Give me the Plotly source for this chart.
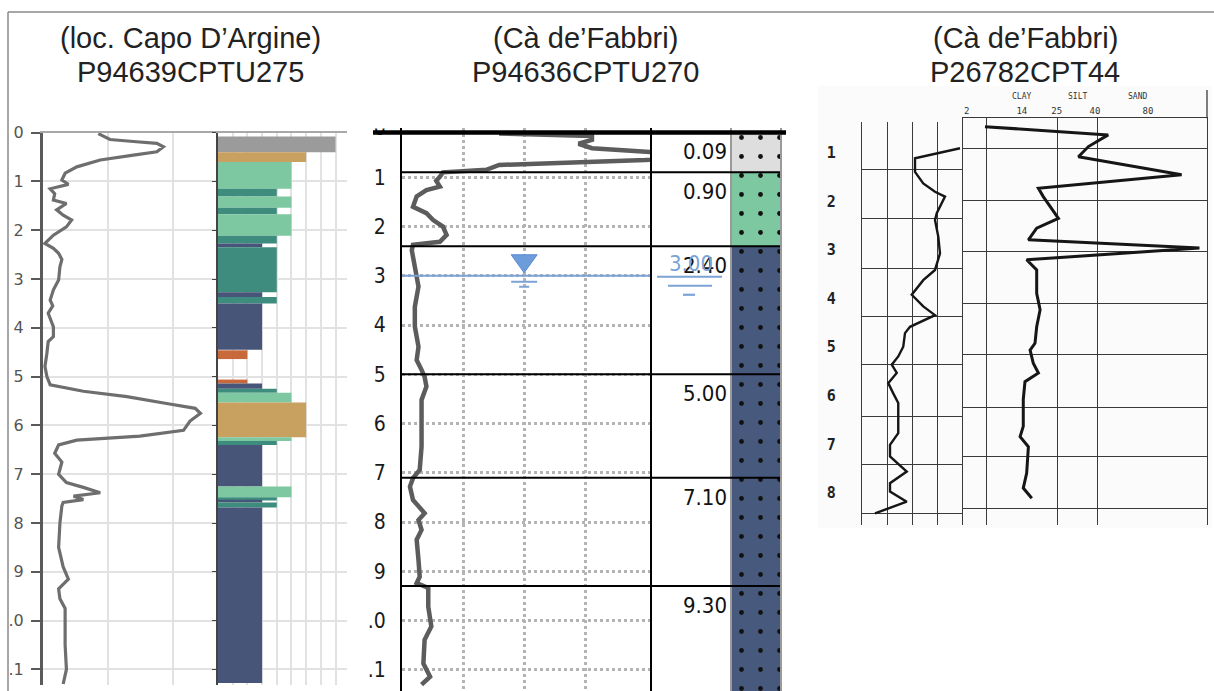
import plotly.graph_objects as go

W, H = 1214, 691

# ---------------- DATA ----------------
# Left log: P94639CPTU275 (loc. Capo D'Argine) - cone resistance trace
cptu275_depth = [0.02, 0.14, 0.18, 0.22, 0.29, 0.39, 0.46, 0.56, 0.70, 0.83, 0.97, 1.06, 1.15,
                 1.25, 1.38, 1.45, 1.58, 1.69, 1.79, 1.93, 2.10, 2.27, 2.37, 2.47, 2.60, 2.75,
                 3.02, 3.22, 3.43, 3.55, 3.70, 3.85, 3.98, 4.18, 4.28, 4.52, 4.79, 5.00, 5.17,
                 5.30, 5.41, 5.55, 5.65, 5.75, 5.91, 6.10, 6.22, 6.30, 6.40, 6.57, 6.75, 7.00,
                 7.17, 7.27, 7.38, 7.45, 7.52, 7.58, 7.65, 8.00, 8.50, 8.90, 9.15, 9.35, 9.55,
                 9.75, 10.00, 10.50, 11.00, 11.30]
cptu275_qc = [8.5, 10.3, 13.9, 17.5, 18.5, 17.5, 13.9, 8.8, 5.2, 3.4, 2.9, 3.9, 1.1,
              1.8, 1.6, 3.6, 2.1, 3.1, 4.4, 3.6, 1.6, 0.3, 1.6, 2.4, 2.9, 2.6,
              2.4, 1.6, 1.1, 1.5, 0.8, 1.2, 1.6, 1.6, 0.8, 0.6, 0.3, 0.6, 1.1,
              6.2, 12.9, 19.0, 23.4, 24.2, 22.6, 21.6, 14.9, 5.2, 2.4, 1.8, 2.9, 2.4,
              3.6, 6.2, 8.8, 4.7, 6.2, 3.1, 2.9, 2.6, 2.4, 3.1, 3.9, 2.4, 2.6,
              3.4, 3.4, 3.4, 3.6, 3.1]

# Soil behaviour type layers for CPTU275
sbt275_top = [0.08, 0.40, 0.60, 1.15, 1.31, 1.54, 1.67, 2.11, 2.27, 2.35, 3.27, 3.37, 3.50,
              4.46, 5.06, 5.14, 5.25, 5.33, 5.53, 6.24, 6.32, 6.40, 7.25, 7.47, 7.54, 7.58, 7.68]
sbt275_bottom = [0.40, 0.60, 1.15, 1.31, 1.54, 1.67, 2.11, 2.27, 2.35, 3.27, 3.37, 3.50, 4.45,
                 4.64, 5.14, 5.25, 5.33, 5.53, 6.24, 6.32, 6.40, 7.25, 7.47, 7.54, 7.58, 7.68, 11.28]
sbt275_zone = [8, 6, 5, 4, 5, 4, 5, 4, 3, 4, 3, 4, 3,
               2, 2, 3, 4, 5, 6, 5, 4, 3, 5, 4, 3, 4, 3]

# Middle log: P94636CPTU270 (Ca de'Fabbri)
cptu270_depth = [0.11, 0.16, 0.24, 0.32, 0.41, 0.48, 0.56, 0.65, 0.68, 0.75, 0.85, 0.90, 0.99,
                 1.07, 1.19, 1.26, 1.39, 1.60, 1.73, 1.87, 2.00, 2.17, 2.31, 2.37, 2.48, 2.88,
                 3.22, 3.63, 4.03, 4.44, 4.71, 4.91, 5.05, 5.25, 5.52, 5.99, 6.47, 6.94, 7.11,
                 7.28, 7.55, 7.82, 7.96, 8.16, 8.36, 8.77, 9.11, 9.24, 9.34, 9.72, 10.12, 10.39,
                 10.87, 11.14, 11.30]
cptu270_qc = [1.59, 3.11, 3.11, 2.89, 3.11, 3.98, 5.00, 3.98, 3.11, 1.59, 1.38, 0.67, 0.62,
              0.56, 0.62, 0.40, 0.24, 0.18, 0.40, 0.51, 0.67, 0.73, 0.62, 0.18, 0.16, 0.21,
              0.27, 0.21, 0.21, 0.27, 0.24, 0.32, 0.37, 0.40, 0.32, 0.32, 0.32, 0.29, 0.18,
              0.13, 0.18, 0.37, 0.27, 0.32, 0.24, 0.27, 0.29, 0.24, 0.43, 0.43, 0.48, 0.37,
              0.35, 0.46, 0.32]
strata270_top = [0.09, 0.90, 2.40, 5.00, 7.10, 9.30]
strata270_bottom = [0.90, 2.40, 5.00, 7.10, 9.30, 11.43]
strata270_soil = ["fill", "silt", "clay", "clay", "clay", "clay"]
water270_depth = 3.00

# Right log: P26782CPT44 (Ca de'Fabbri), scanned record
cpt44_depth_a = [0.905, 1.11, 1.39, 1.63, 1.80, 1.90, 2.24, 2.38, 2.72, 3.07, 3.41, 3.62, 3.92,
                 4.16, 4.34, 4.58, 4.71, 4.99, 5.19, 5.36, 5.53, 5.74, 5.95, 6.15, 6.50, 6.77,
                 7.01, 7.25, 7.56, 7.80, 7.97, 8.18, 8.42]
cpt44_qc = [3.92, 2.12, 2.12, 2.45, 2.92, 3.32, 2.99, 2.92, 3.05, 3.12, 2.92, 2.45, 1.99,
            2.45, 2.92, 1.92, 1.72, 1.65, 1.45, 1.19, 1.39, 1.05, 1.25, 1.45, 1.45, 1.45,
            1.12, 1.12, 1.79, 1.12, 1.12, 1.79, 0.52]
cpt44_depth_b = [0.46, 0.63, 0.87, 1.08, 1.45, 1.73, 1.90, 2.14, 2.35, 2.55, 2.79, 2.96, 3.20,
                 3.41, 3.89, 4.23, 4.58, 4.92, 5.06, 5.33, 5.53, 5.71, 6.08, 6.63, 6.84, 7.05,
                 7.59, 7.90, 8.11]
cpt44_ratio = [9.0, 59.5, 51.4, 47.3, 89.6, 30.9, 32.9, 36.4, 39.1, 30.2, 26.8, 96.9, 26.1,
               30.2, 30.2, 31.6, 30.2, 29.5, 27.5, 28.8, 30.9, 25.4, 24.7, 24.7, 23.4, 26.8,
               26.1, 24.7, 28.2]
cpt44_scale_pos = [1.5, 24.1, 38.4, 54.1, 75.8]
cpt44_scale_text = ["2", "14", "25", "40", "80"]
cpt44_class_pos = [24.1, 47.1, 71.7]
cpt44_class_text = ["CLAY", "SILT", "SAND"]
cpt44_gridx_b = [9.7, 38.9, 55.3]
cpt44_gridy_a = [0.358, 1.35, 2.35, 3.37, 4.37, 5.36, 6.43, 7.42, 8.42]
cpt44_gridy_b = [0.905, 1.97, 3.03, 4.10, 5.16, 6.25, 7.25, 8.31]
cpt44_depth_ticks = [1, 2, 3, 4, 5, 6, 7, 8]

depth_ticks = list(range(12))
depth_ticktext = ["0", "1", "2", "3", "4", "5", "6", "7", "8", "9", ".0", ".1"]

titles_top = ["(loc. Capo D\u2019Argine)", "(C\u00e0 de\u2019Fabbri)", "(C\u00e0 de\u2019Fabbri)"]
titles_bottom = ["P94639CPTU275", "P94636CPTU270", "P26782CPT44"]

# ---------------- STYLE ----------------
zone_colors = {2: "#C8693C", 3: "#465578", 4: "#3D8C7D", 5: "#7DC8A0", 6: "#C8A060", 8: "#9B9B9B"}
soil_colors = {"fill": "#DEDEDE", "silt": "#7DC8A0", "clay": "#475A7E"}
NARROW = "Liberation Sans Narrow, DejaVu Sans Condensed, Arial Narrow, sans-serif"
SANS = "Liberation Sans, Arial, sans-serif"
MONO = "DejaVu Sans Mono, Liberation Mono, monospace"
BLUE = "#7BA3D6"


def px(x):
    return x / W


def py(y):
    return 1 - y / H


fig = go.Figure()

# ---- Panel 1 ----
fig.add_trace(go.Scatter(x=cptu275_qc, y=cptu275_depth, mode="lines",
                         line=dict(color="#6E6E6E", width=3.2), xaxis="x", yaxis="y",
                         hoverinfo="skip"))
fig.add_trace(go.Bar(orientation="h",
                     y=[(t + b) / 2 for t, b in zip(sbt275_top, sbt275_bottom)],
                     width=[b - t for t, b in zip(sbt275_top, sbt275_bottom)],
                     x=sbt275_zone, base=0,
                     marker=dict(color=[zone_colors[z] for z in sbt275_zone], line=dict(width=0)),
                     xaxis="x2", yaxis="y2", hoverinfo="skip"))

# ---- Panel 2 ----
fig.add_trace(go.Scatter(x=cptu270_qc, y=cptu270_depth, mode="lines",
                         line=dict(color="#5C5C5C", width=4.5), xaxis="x3", yaxis="y3",
                         hoverinfo="skip"))
strata_mid = [(t + b) / 2 for t, b in zip(strata270_top, strata270_bottom)]
strata_thk = [b - t for t, b in zip(strata270_top, strata270_bottom)]
fig.add_trace(go.Bar(orientation="h", y=strata_mid, width=strata_thk,
                     x=[1] * len(strata270_top), base=0,
                     marker=dict(color=[soil_colors[s] for s in strata270_soil], line=dict(width=0)),
                     xaxis="x4", yaxis="y4", hoverinfo="skip"))
fig.add_trace(go.Bar(orientation="h", y=strata_mid, width=strata_thk,
                     x=[1] * len(strata270_top), base=0,
                     marker=dict(color="rgba(0,0,0,0)", line=dict(width=0),
                                 pattern=dict(shape=".", fillmode="overlay",
                                              bgcolor="rgba(0,0,0,0)", fgcolor="#111111",
                                              fgopacity=1, size=19, solidity=0.05)),
                     xaxis="x4", yaxis="y4", hoverinfo="skip"))

# ---- Panel 3 ----
fig.add_trace(go.Scatter(x=cpt44_qc, y=cpt44_depth_a, mode="lines",
                         line=dict(color="#161616", width=2.4), xaxis="x5", yaxis="y5",
                         hoverinfo="skip"))
fig.add_trace(go.Scatter(x=cpt44_ratio, y=cpt44_depth_b, mode="lines",
                         line=dict(color="#161616", width=3), xaxis="x6", yaxis="y6",
                         hoverinfo="skip"))

GRID1 = "#E2E2E2"
DOT = "#B4B4B4"
SCAN = "#3A3A3A"

fig.update_layout(
    width=W, height=H, margin=dict(l=0, r=0, t=0, b=0), template="none",
    paper_bgcolor="white", plot_bgcolor="rgba(0,0,0,0)", showlegend=False, barmode="overlay",
    # panel 1
    xaxis=dict(domain=[px(43), px(218)], range=[0, 26.9], anchor="y", tick0=0, dtick=10,
               showgrid=True, gridcolor=GRID1, gridwidth=1.5, showticklabels=False, ticks="",
               zeroline=False, showline=True, side="top", linecolor="#A8A8A8", linewidth=2),
    yaxis=dict(domain=[py(685), py(132.7)], range=[11.32, 0], anchor="x",
               tickmode="array", tickvals=depth_ticks, ticktext=depth_ticktext,
               showgrid=True, gridcolor=GRID1, gridwidth=1.5, zeroline=False,
               showline=True, linecolor="#5A5A5A", linewidth=3, ticks="outside", ticklen=9,
               tickwidth=2, tickcolor="#5A5A5A", ticklabelstandoff=4,
               tickfont=dict(family="DejaVu Sans", size=16, color="#555555")),
    xaxis2=dict(domain=[px(218), px(347)], range=[0, 8.78], anchor="y2", tick0=0, dtick=1,
                showgrid=True, gridcolor=GRID1, gridwidth=1.5, showticklabels=False, ticks="",
                zeroline=False, showline=True, side="top", linecolor="#A8A8A8", linewidth=2),
    yaxis2=dict(domain=[py(685), py(132.7)], range=[11.32, 0], anchor="x2",
                tickmode="array", tickvals=depth_ticks, showticklabels=False,
                showgrid=True, gridcolor=GRID1, gridwidth=1.5, zeroline=False,
                showline=True, linecolor="#444444", linewidth=2, ticks="outside", ticklen=4,
                tickcolor="#444444"),
    # panel 2
    xaxis3=dict(domain=[px(402), px(650)], range=[0, 4.06], anchor="y3",
                tickmode="array", tickvals=[1, 2, 3], showgrid=True, gridcolor=DOT, gridwidth=3,
                griddash="dot", showticklabels=False, ticks="", zeroline=False, showline=False),
    yaxis3=dict(domain=[0, py(128)], range=[11.43, 0], anchor="x3",
                tickmode="array", tickvals=depth_ticks, ticktext=depth_ticktext,
                showgrid=True, gridcolor=DOT, gridwidth=3, griddash="dot", zeroline=False,
                showline=True, mirror=True, linecolor="black", linewidth=2, ticks="",
                ticklabelstandoff=10, tickfont=dict(family=NARROW, size=21, color="#1A1A1A")),
    xaxis4=dict(domain=[px(732), px(780)], range=[0, 1], anchor="y4", showgrid=False,
                showticklabels=False, ticks="", zeroline=False, showline=False),
    yaxis4=dict(domain=[0, py(128)], range=[11.43, 0], anchor="x4", showgrid=False,
                showticklabels=False, ticks="", zeroline=False, showline=True, mirror=True,
                linecolor="#9A9A9A", linewidth=2),
    # panel 3
    xaxis5=dict(domain=[px(862), px(962)], range=[0, 4], anchor="y5", tickmode="array",
                tickvals=[1, 2, 3], showgrid=True, gridcolor=SCAN, gridwidth=1.3,
                showticklabels=False, ticks="", zeroline=False, showline=False),
    yaxis5=dict(domain=[py(525), py(121.7)], range=[8.66, 0.358], anchor="x5",
                tickmode="array", tickvals=cpt44_depth_ticks,
                ticktext=[str(v) for v in cpt44_depth_ticks], showgrid=False, ticks="",
                ticklabelstandoff=22, zeroline=False, showline=True, linecolor=SCAN, linewidth=1.3,
                tickfont=dict(family=MONO, size=15, color="#222222", weight="bold"),
                minor=dict(tickmode="array", tickvals=cpt44_gridy_a, showgrid=True,
                           gridcolor=SCAN, gridwidth=1.3, ticks="")),
    xaxis6=dict(domain=[px(963), px(1207)], range=[0, 100], anchor="y6", side="top",
                tickmode="array", tickvals=cpt44_scale_pos, ticktext=cpt44_scale_text,
                tickfont=dict(family=MONO, size=9, color="#333333"), showgrid=False, ticks="",
                zeroline=False, showline=True, linecolor=SCAN, linewidth=1.3,
                minor=dict(tickmode="array", tickvals=cpt44_gridx_b, showgrid=True,
                           gridcolor=SCAN, gridwidth=1.3, ticks="")),
    yaxis6=dict(domain=[py(525), py(118.3)], range=[8.66, 0.288], anchor="x6",
                tickmode="array", tickvals=[], showticklabels=False, showgrid=False, ticks="",
                zeroline=False, showline=True, mirror=True, linecolor=SCAN, linewidth=1.3,
                minor=dict(tickmode="array", tickvals=cpt44_gridy_b, showgrid=True,
                           gridcolor=SCAN, gridwidth=1.3, ticks="")),
)

shapes = []
# outer frame
shapes.append(dict(type="line", xref="paper", yref="paper", x0=px(8), x1=px(8), y0=py(12), y1=0,
                   line=dict(color="#8A8A8A", width=1.5)))
shapes.append(dict(type="line", xref="paper", yref="paper", x0=px(8), x1=1, y0=py(12), y1=py(12),
                   line=dict(color="#8A8A8A", width=1.5)))
# scanned sheet tint
shapes.append(dict(type="rect", xref="paper", yref="paper", x0=px(818), x1=px(1212), y0=py(528),
                   y1=py(86), fillcolor="#FBFBFB", line=dict(width=0), layer="below"))
shapes.append(dict(type="line", xref="paper", yref="paper", x0=px(1207), x1=px(1207), y0=py(118.3),
                   y1=py(90), line=dict(color=SCAN, width=1.3)))
# strata boundaries (middle log)
for i, top in enumerate(strata270_top):
    first = i == 0
    shapes.append(dict(type="line", xref="paper", yref="y3",
                       x0=px(373 if first else 402), x1=px(786 if first else 780), y0=top, y1=top,
                       line=dict(color="black", width=4.5 if first else 2), layer="above"))
# water table on the plot
shapes.append(dict(type="line", xref="x3", yref="y3", x0=0, x1=4.06, y0=water270_depth,
                   y1=water270_depth, line=dict(color=BLUE, width=2)))
shapes.append(dict(type="path", xref="x3", yref="y3", xsizemode="pixel", ysizemode="pixel",
                   xanchor=2, yanchor=water270_depth, path="M -13,21 L 13,21 L 0,3 Z",
                   fillcolor="#6C9CDA", line=dict(color="#5A8BD0", width=1)))
for off, half in [(-6, 13), (-11, 5)]:
    shapes.append(dict(type="line", xref="x3", yref="y3", xsizemode="pixel", ysizemode="pixel",
                       xanchor=2, yanchor=water270_depth, x0=-half, x1=half, y0=off, y1=off,
                       line=dict(color=BLUE, width=2)))
# water symbol in label column
for off, x0, x1 in [(-1, 657, 722), (-10, 668, 712), (-19, 683, 695)]:
    shapes.append(dict(type="line", xref="paper", yref="y3", ysizemode="pixel",
                       yanchor=water270_depth, x0=px(x0), x1=px(x1), y0=off, y1=off,
                       line=dict(color=BLUE, width=2.2)))
# crop of the top depth label in the middle log
shapes.append(dict(type="rect", xref="paper", yref="paper", x0=px(366), x1=px(400), y0=py(128.5),
                   y1=py(100), fillcolor="white", line=dict(width=0), layer="above"))

annotations = []
for cx, t1, t2 in zip([190, 585, 1025], titles_top, titles_bottom):
    annotations.append(dict(xref="paper", yref="paper", x=px(cx), y=py(38), text=t1,
                            showarrow=False, xanchor="center", yanchor="middle",
                            font=dict(family=SANS, size=29, color="#222222")))
    annotations.append(dict(xref="paper", yref="paper", x=px(cx), y=py(72), text=t2,
                            showarrow=False, xanchor="center", yanchor="middle",
                            font=dict(family=SANS, size=29, color="#222222")))
for top in strata270_top:
    annotations.append(dict(xref="paper", yref="y3", x=px(729), y=top, text=f"{top:.2f}",
                            showarrow=False, xanchor="right", yanchor="top", yshift=-5,
                            font=dict(family=NARROW, size=22, color="#111111")))
annotations.append(dict(xref="paper", yref="y3", x=px(691), y=water270_depth,
                        text=f"{water270_depth:.2f}", showarrow=False, xanchor="center",
                        yanchor="middle", yshift=12, font=dict(family=NARROW, size=22, color=BLUE)))
for pos, txt in zip(cpt44_class_pos, cpt44_class_text):
    annotations.append(dict(xref="x6", yref="paper", x=pos, y=py(96), text=txt, showarrow=False,
                            xanchor="center", yanchor="middle",
                            font=dict(family=MONO, size=8, color="#333333")))

fig.update_layout(shapes=shapes, annotations=annotations)

fig.write_html("out.html", config={"displayModeBar": False},
               post_script="document.body.style.margin='0px';")
